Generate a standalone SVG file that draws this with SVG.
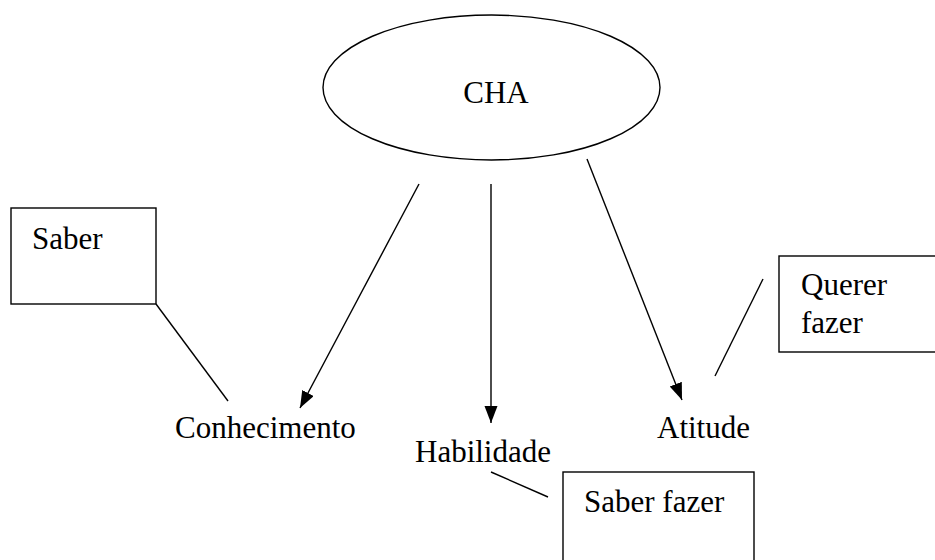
<svg xmlns="http://www.w3.org/2000/svg" width="935" height="560" viewBox="0 0 935 560">
<style>
.t{font-family:'Liberation Serif','Times New Roman',Times,serif;font-size:31px;fill:#000}
.s{fill:none;stroke:#000;stroke-width:1.4}
.box{fill:#fff;stroke:#000;stroke-width:1.4}
</style>
<defs>
<marker id="ah" markerUnits="userSpaceOnUse" markerWidth="18" markerHeight="14" refX="17" refY="6.5" orient="auto">
<path d="M0,0 L17,6.5 L0,13 Z" fill="#000"/>
</marker>
</defs>
<rect width="935" height="560" fill="#fff"/>
<g id="connectors">
<line class="s" x1="419" y1="184" x2="300" y2="408" marker-end="url(#ah)"/>
<line class="s" x1="491" y1="184" x2="491" y2="423" marker-end="url(#ah)"/>
<line class="s" x1="587" y1="159" x2="682" y2="400" marker-end="url(#ah)"/>
<line class="s" x1="156" y1="304" x2="228" y2="401"/>
<line class="s" x1="763" y1="279" x2="715" y2="376"/>
<line class="s" x1="491" y1="472" x2="548" y2="497"/>
</g>
<g id="cha">
<ellipse class="s" cx="491.5" cy="87.5" rx="168.5" ry="72.5"/>
<text class="t" x="496" y="103" text-anchor="middle" font-family="Liberation Serif, serif">CHA</text>
</g>
<g id="saber">
<rect class="box" x="11" y="208" width="145" height="96"/>
<text class="t" x="32" y="249" font-family="Liberation Serif, serif">Saber</text>
</g>
<g id="conhecimento">
<text class="t" x="175" y="438" font-family="Liberation Serif, serif">Conhecimento</text>
</g>
<g id="habilidade">
<text class="t" x="415" y="462" font-family="Liberation Serif, serif">Habilidade</text>
</g>
<g id="atitude">
<text class="t" x="657" y="438" font-family="Liberation Serif, serif">Atitude</text>
</g>
<g id="querer-fazer">
<rect class="box" x="779" y="256" width="170" height="96"/>
<text class="t" x="801" y="295" font-family="Liberation Serif, serif">Querer</text>
<text class="t" x="801" y="333" font-family="Liberation Serif, serif">fazer</text>
</g>
<g id="saber-fazer">
<rect class="box" x="563" y="472" width="191" height="100"/>
<text class="t" x="584" y="512" font-family="Liberation Serif, serif">Saber fazer</text>
</g>
</svg>
